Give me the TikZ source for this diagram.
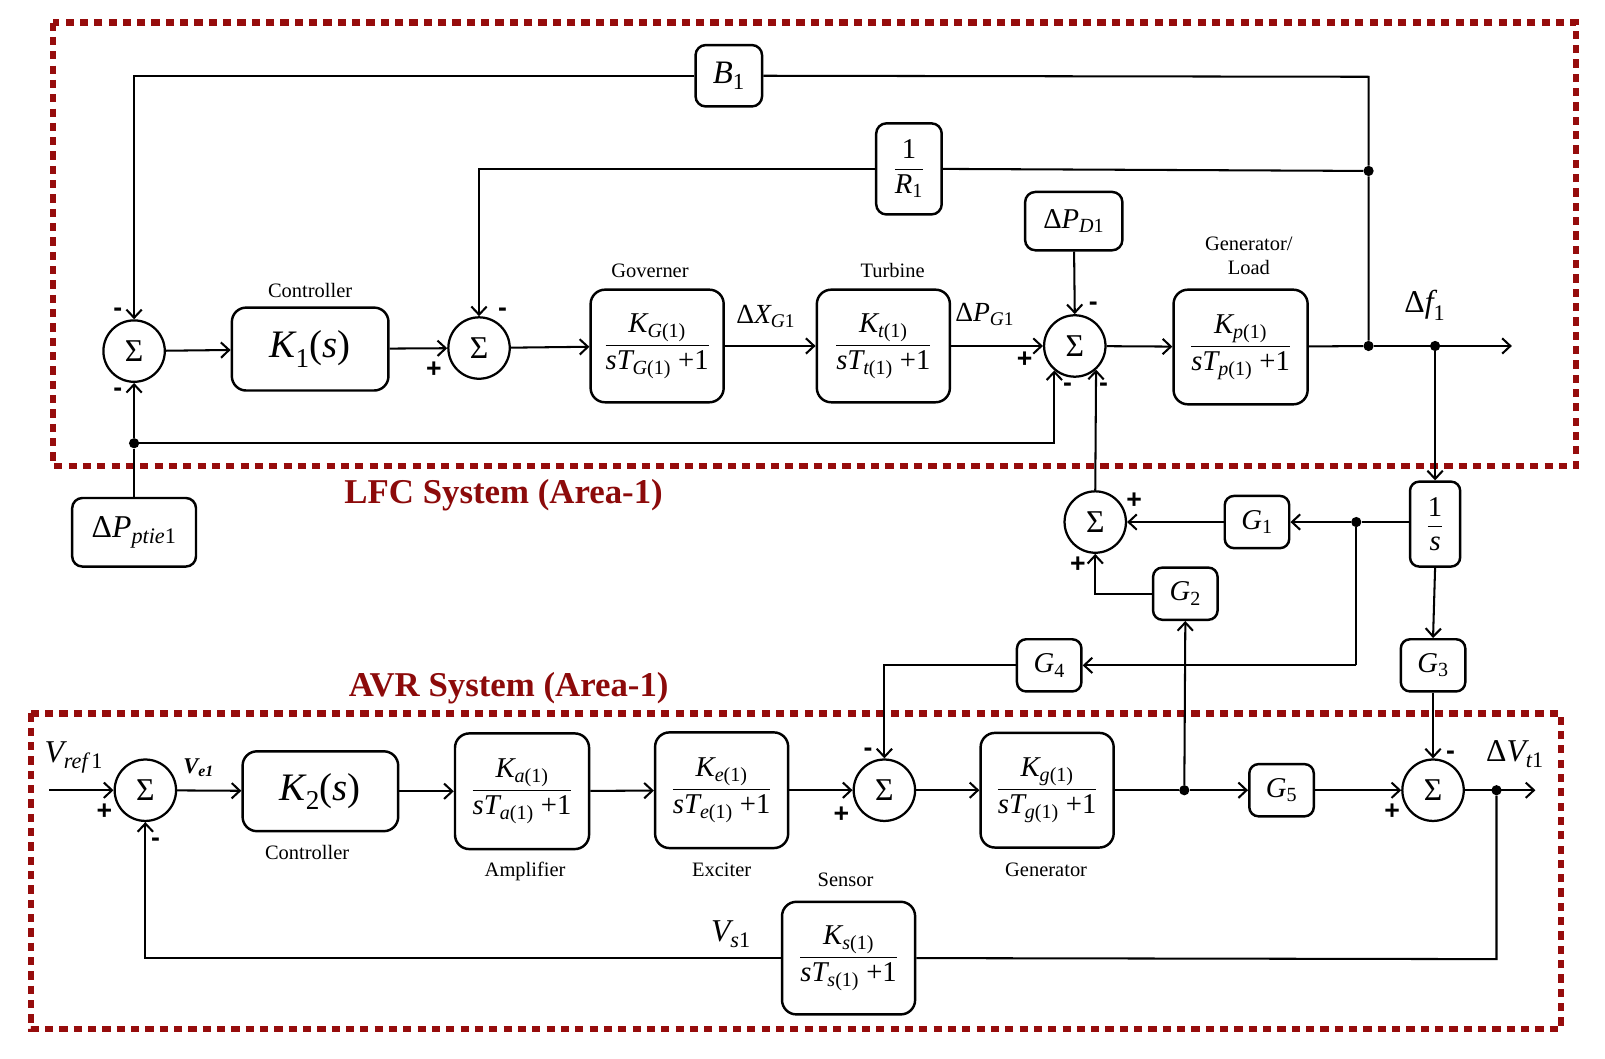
\documentclass[tikz,border=0pt]{standalone}
\usepackage{amsmath}
\usepackage{fontspec}
\setmainfont{Liberation Serif}
\setsansfont{Liberation Sans}
\usetikzlibrary{arrows.meta}
\definecolor{dred}{RGB}{150,12,12}
\definecolor{tred}{RGB}{140,10,10}
\newcommand\vi[1]{\textit{#1}}
\newcommand\vu[1]{\textup{#1}}
\newcommand\tfr[1]{$\dfrac{\vi{K}_{#1}}{\vi{sT}_{#1}\;\vu{+1}}$}
\tikzset{
  ln/.style={line width=2pt},
  arr/.style={line width=2pt, -{Straight Barb[length=8pt,width=15pt]}},
  blk/.style={draw, line width=2.4pt, rounded corners=14pt, inner sep=0pt, align=center, font=\fontsize{28}{30}\selectfont},
  gblk/.style={draw, line width=2.4pt, rounded corners=9pt, inner sep=0pt, minimum width=63pt, minimum height=51pt, font=\fontsize{28}{30}\selectfont},
  sumn/.style={draw, circle, line width=2.2pt, minimum size=60pt, inner sep=0pt, font=\fontsize{31}{31}\selectfont},
  dot/.style={circle, fill, inner sep=0pt, minimum size=10pt},
  sg/.style={font=\fontsize{26}{26}\selectfont\bfseries\sffamily, inner sep=0pt},
  lbl/.style={font=\fontsize{20}{23}\selectfont, inner sep=0pt, align=center},
  mlbl/.style={font=\fontsize{27}{29}\selectfont, inner sep=0pt},
  ttl/.style={font=\fontsize{34}{36}\selectfont\bfseries, text=tred, inner sep=0pt},
  dashbox/.style={draw=dred, line width=6pt, dash pattern=on 8pt off 6pt},
}
\begin{document}
\begin{tikzpicture}[x=1pt,y=-1pt]
\useasboundingbox (0,0) rectangle (1568,1034);
% area frames
\draw[dashbox] (52,22) rectangle (1540,455);
\draw[dashbox] (30,697) rectangle (1525,1005);
\node[ttl] (tlfc) at (492,484) {LFC System (Area-1)};
\node[ttl] (tavr) at (497,672) {AVR System (Area-1)};

% ---------- LFC ----------
\node[sumn] (s1) at (131,343) {Σ};
\node[blk, minimum width=153pt, minimum height=81pt, font=\fontsize{38}{40}\selectfont] (k1) at (303,341) {$\vi{K}_{\vu{1}}\vu{(}\vi{s}\vu{)}$};
\node[sumn] (s2) at (468,340) {Σ};
\node[blk, minimum width=130pt, minimum height=110pt] (gov) at (642,338) {\tfr{\vi{G}\vu{(1)}}};
\node[blk, minimum width=130pt, minimum height=110pt] (tur) at (863,338) {\tfr{\vi{t}\vu{(1)}}};
\node[sumn] (s3) at (1050,338) {Σ};
\node[blk, minimum width=95pt, minimum height=57pt, rounded corners=10pt] (pd) at (1049,216) {$\vu{Δ}\vi{P}_{\vi{D}\vu{1}}$};
\node[blk, minimum width=131pt, minimum height=112pt] (gl) at (1212,339) {\tfr{\vi{p}\vu{(1)}}};
\node[blk, minimum width=65pt, minimum height=60pt, rounded corners=10pt, font=\fontsize{32}{34}\selectfont] (b1) at (712,74) {$\vi{B}_{\vu{1}}$};
\node[blk, minimum width=64pt, minimum height=89pt, rounded corners=10pt] (r1) at (888,165) {$\dfrac{\vu{1}}{\vi{R}_{\vu{1}}}$};
\node[blk, minimum width=121pt, minimum height=67pt, rounded corners=10pt, font=\fontsize{31}{33}\selectfont] (pt) at (131,520) {$\vu{Δ}\vi{P}_{\vi{ptie}\vu{1}}$};

\node[lbl] (lc1) at (303,284) {Controller};
\node[lbl] (lgov) at (635,265) {Governer};
\node[lbl] (ltur) at (872,264) {Turbine};
\node[lbl] (lgl) at (1220,250) {Generator/\\Load};
\node[mlbl] (lx) at (748,309) {$\vu{Δ}\vi{X}_{\vi{G}\vu{1}}$};
\node[mlbl] (lp) at (962,307) {$\vu{Δ}\vi{P}_{\vi{G}\vu{1}}$};
\node[mlbl, font=\fontsize{31}{33}\selectfont] (lf) at (1392,298) {$\vu{Δ}\vi{f}_{\vu{1}}$};

\node[dot] (j1) at (1337,338) {};
\node[dot] (j2) at (1402,338) {};
\node[dot] (jr) at (1337,167) {};
\coordinate (cb) at (1337,75);
\coordinate (fout) at (1477,338);
\node[dot] (jp) at (131,433) {};

\draw[arr] (s1) -- (k1);
\draw[arr] (k1) -- (s2);
\draw[arr] (s2) -- (gov);
\draw[arr] (gov) -- (tur);
\draw[arr] (tur) -- (s3);
\draw[arr] (s3) -- (gl);
\draw[ln] (gl) -- (j1);
\draw[arr] (j1) -- (fout);
\draw[ln] (j1) -- (jr) -- (cb) -- (b1.east);
\draw[arr] (b1.west) -| (s1.north);
\draw[ln] (jr) -- (r1.east);
\draw[arr] (r1.west) -| (s2.north);
\draw[arr] (pd) -- (s3.north);
\draw[ln] (pt.north) -- (jp);
\draw[arr] (jp) -- (s1.south);
\draw[arr] (jp) -- (jp -| s3.230) -- (s3.230);

% signs LFC
\node[sg] at (115,305) {-};
\node[sg] at (115,383) {-};
\node[sg] at (424,361) {+};
\node[sg] at (491,305) {-};
\node[sg] at (1001,351) {+};
\node[sg] at (1068,299) {-};
\node[sg] at (1043,378) {-};
\node[sg] at (1078,378) {-};

% ---------- coupling ----------
\node[blk, minimum width=49pt, minimum height=83pt, rounded corners=9pt] (is) at (1402,512) {$\dfrac{\vu{1}}{\vi{s}}$};
\node[gblk] (g1) at (1228,510) {$\vi{G}_{\vu{1}}$};
\node[sumn] (s4) at (1070,510) {Σ};
\node[gblk] (g2) at (1158,580) {$\vi{G}_{\vu{2}}$};
\node[gblk] (g4) at (1025,650) {$\vi{G}_{\vu{4}}$};
\node[gblk] (g3) at (1400,650) {$\vi{G}_{\vu{3}}$};
\node[dot] (jg) at (1325,510) {};
\coordinate (cg4) at (1325,650);

\draw[arr] (j2) -- (is.north);
\draw[ln] (is.west |- jg) -- (jg);
\draw[arr] (jg) -- (g1.east);
\draw[arr] (g1) -- (s4);
\draw[arr] (g2.west) -| (s4.south);
\draw[arr] (s4.north) -- (s3.312);
\draw[ln] (jg) -- (cg4);
\draw[arr] (cg4) -- (g4.east);
\draw[arr] (is.south) -- (g3.north);

\node[sg] at (1108,489) {+};
\node[sg] at (1053,552) {+};

% ---------- AVR ----------
\coordinate (vin) at (48,772);
\node[sumn] (s6) at (142,772) {Σ};
\node[blk, minimum width=152pt, minimum height=78pt, font=\fontsize{38}{40}\selectfont] (k2) at (313,773) {$\vi{K}_{\vu{2}}\vu{(}\vi{s}\vu{)}$};
\node[blk, minimum width=131pt, minimum height=113pt] (amp) at (510,773) {\tfr{\vi{a}\vu{(1)}}};
\node[blk, minimum width=130pt, minimum height=113pt] (exc) at (705,772) {\tfr{\vi{e}\vu{(1)}}};
\node[sumn] (s5) at (864,772) {Σ};
\node[blk, minimum width=130pt, minimum height=112pt] (gen) at (1023,772) {\tfr{\vi{g}\vu{(1)}}};
\node[gblk] (g5) at (1252,772) {$\vi{G}_{\vu{5}}$};
\node[sumn] (s7) at (1400,772) {Σ};
\node[blk, minimum width=130pt, minimum height=110pt] (sen) at (829,936) {\tfr{\vi{s}\vu{(1)}}};
\node[dot] (jv) at (1157,772) {};
\node[dot] (jt) at (1462,772) {};
\coordinate (vout) at (1500,772);
\coordinate (ct) at (1462,937);

\node[mlbl, font=\fontsize{31}{33}\selectfont] (lvr) at (72,740) {$\vi{V}_{\vi{ref}\,\vu{1}}$};
\node[font=\fontsize{22}{24}\selectfont\bfseries\itshape, inner sep=0pt] (lve) at (194,750) {V\textsubscript{e1}};
\node[lbl] (lc2) at (300,833) {Controller};
\node[lbl] (lamp) at (513,851) {Amplifier};
\node[lbl] (lexc) at (705,850) {Exciter};
\node[lbl] (lgen) at (1022,850) {Generator};
\node[lbl] (lsen) at (826,860) {Sensor};
\node[mlbl, font=\fontsize{31}{33}\selectfont] (lvs) at (714,913) {$\vi{V}_{\vi{s}\vu{1}}$};
\node[mlbl, font=\fontsize{31}{33}\selectfont] (lvt) at (1480,737) {$\vu{Δ}\vi{V}_{\vi{t}\vu{1}}$};

\draw[arr] (vin) -- (s6);
\draw[arr] (s6) -- (k2);
\draw[arr] (k2) -- (amp);
\draw[arr] (amp) -- (exc);
\draw[arr] (exc) -- (s5);
\draw[arr] (s5) -- (gen);
\draw[ln] (gen) -- (jv);
\draw[arr] (jv) -- (g5);
\draw[arr] (g5) -- (s7);
\draw[arr] (s7) -- (vout);
\draw[arr] (jv) -- (g2.south);
\draw[arr] (g4.west) -| (s5.north);
\draw[arr] (g3.south) -- (s7.north);
\draw[ln] (jt) -- (ct) -- (sen.east);
\draw[arr] (sen.west) -| (s6.south);

\node[sg] at (102,793) {+};
\node[sg] at (152,823) {-};
\node[sg] at (848,735) {-};
\node[sg] at (822,796) {+};
\node[sg] at (1417,738) {-};
\node[sg] at (1360,793) {+};
\end{tikzpicture}
\end{document}
